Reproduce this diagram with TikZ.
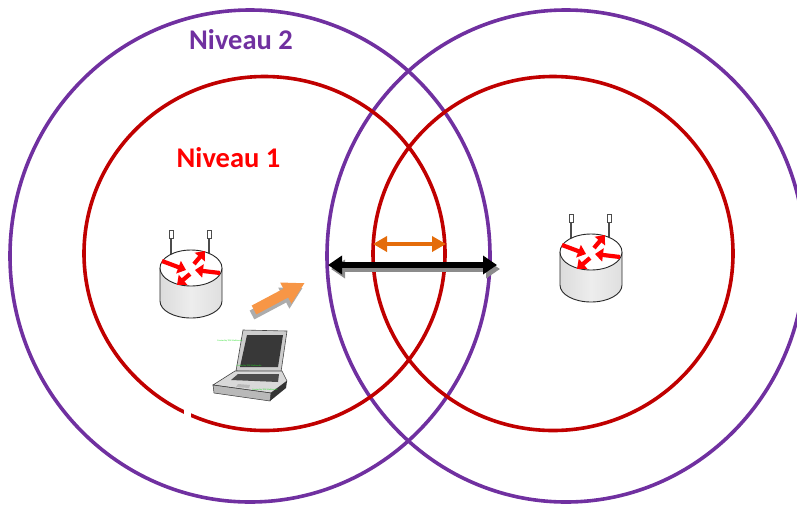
\documentclass[tikz,border=0pt]{standalone}
\usepackage{fontspec}
\setmainfont{Carlito}
\usetikzlibrary{arrows.meta}

\definecolor{violetN}{HTML}{7030A0}
\definecolor{rougeZ}{HTML}{C00000}
\definecolor{rougeT}{HTML}{FF0000}
\definecolor{orangeF}{HTML}{E46C0A}
\definecolor{orangeB}{HTML}{F79646}
\definecolor{vertW}{HTML}{22DD22}

\tikzset{
	zone2/.style={violetN, line width=3.6pt},
	zone1/.style={rougeZ, line width=3.6pt},
	titre/.style={font=\bfseries\fontsize{28.5}{30}\selectfont, inner sep=0pt, anchor=base},
	flecheR/.style={red, line width=4.2pt, -{Triangle[length=8pt,width=13pt]}},
	ombre/.style={black!45, line width=5.5pt, {Triangle[length=14pt,width=18pt]}-{Triangle[length=14pt,width=18pt]}},
	lien2/.style={black, line width=5.5pt, {Triangle[length=14pt,width=18pt]}-{Triangle[length=14pt,width=18pt]}},
	lien1/.style={orangeF, line width=4pt, {Triangle[length=14pt,width=15pt]}-{Triangle[length=14pt,width=15pt]}},
	filigrane/.style={vertW, font=\fontsize{2.2}{2.5}\selectfont, inner sep=0pt},
	routeur/.pic={
		% antennes
		\draw[gray!60!black, line width=1.3pt] (-20,-14) -- (-20,-30);
		\draw[gray!60!black, fill=white, line width=0.8pt] (-22,-30) rectangle (-18,-38);
		\draw[gray!60!black, line width=1.3pt] (18,-15) -- (18,-30);
		\draw[gray!60!black, fill=white, line width=0.8pt] (16,-30) rectangle (20,-38);
		% corps
		\shade[left color=gray!28, right color=gray!25, middle color=gray!14]
			(-31,0) -- (-31,33) arc[start angle=180, end angle=0, x radius=31, y radius=17] -- (31,0) -- cycle;
		\draw[gray!30!black, line width=0.9pt]
			(-31,0) -- (-31,33) arc[start angle=180, end angle=0, x radius=31, y radius=17] -- (31,0);
		\draw[gray!30!black, fill=white, line width=0.9pt] (0,0) ellipse[x radius=31, y radius=18];
		% fleches
		\draw[flecheR] (-29,-7) -- (-5,2);
		\draw[flecheR] (3,-4) -- (14,-17);
		\draw[flecheR] (29,5) -- (4,2);
		\draw[flecheR] (-1,6) -- (-14,17);
	}
}

\begin{document}
\begin{tikzpicture}[x=1pt, y=-1pt]
	\useasboundingbox (0,0) rectangle (797,504);

	% zones de couverture
	\draw[zone2] (250,256) ellipse[x radius=240, y radius=246];
	\draw[zone2] (566,256) ellipse[x radius=239, y radius=246];
	\draw[zone1] (264.5,253.5) ellipse[x radius=180.5, y radius=177];
	\draw[zone1] (553,253.5) ellipse[x radius=180, y radius=177];

	\node[titre, violetN] (niv2) at (241,49) {Niveau 2};
	\node[titre, rougeT] (niv1) at (228.5,167) {Niveau 1};

	% routeurs
	\pic (r1) at (191,268) {routeur};
	\pic (r2) at (591,252) {routeur};

	% portees
	\coordinate (g2) at (328,265);
	\coordinate (d2) at (497,265);
	\coordinate (g1) at (373,244);
	\coordinate (d1) at (446,244);
	\draw[ombre] ([shift={(3,4)}]g2) -- ([shift={(3,4)}]d2);
	\draw[lien2] (g2) -- (d2);
	\draw[lien1] (g1) -- (d1);

	% fleche de deplacement
	\begin{scope}[shift={(252,315)}, rotate=28]
		\fill[gray!65] (0,-5) -- (36,-5) -- (36,-12) -- (57,0) -- (36,12) -- (36,5) -- (0,5) -- cycle;
	\end{scope}
	\begin{scope}[shift={(254,310)}, rotate=28]
		\fill[orangeB] (0,-5) -- (36,-5) -- (36,-12) -- (57,0) -- (36,12) -- (36,5) -- (0,5) -- cycle;
	\end{scope}

	% portable
	\fill[white] (184,407) rectangle (191,419);
	\draw[gray!55!black, fill=gray!40, line width=0.6pt] (243,330) -- (287,331) -- (281,372) -- (236,371) -- cycle;
	\fill[black!78] (247,335) -- (283,335) -- (278,367) -- (240,367) -- cycle;
	\draw[gray!55!black, fill=gray!30, line width=0.6pt] (235,371) -- (282,371) -- (287,381) -- (271,393) -- (213,385) -- cycle;
	\fill[black!70] (238,374) -- (279,374) -- (278,382) -- (231,380) -- cycle;
	\fill[gray!55] (238,384) -- (250,385) -- (249,388) -- (236,387) -- cycle;
	\draw[gray!40!black, fill=gray!55, line width=0.5pt] (213,385) -- (271,393) -- (270,401) -- (214,393) -- cycle;
	\fill[black!80] (271,393) -- (287,381) -- (286,388) -- (270,401) -- cycle;
	\node[filigrane] (w1) at (230,341) {Created by TIGE Multimedia};
	\node[filigrane] (w2) at (249,366) {Created by TIGE Multimedia};
	\node[filigrane] (w3) at (265,390) {Created by TIGE Multimedia};
\end{tikzpicture}
\end{document}
